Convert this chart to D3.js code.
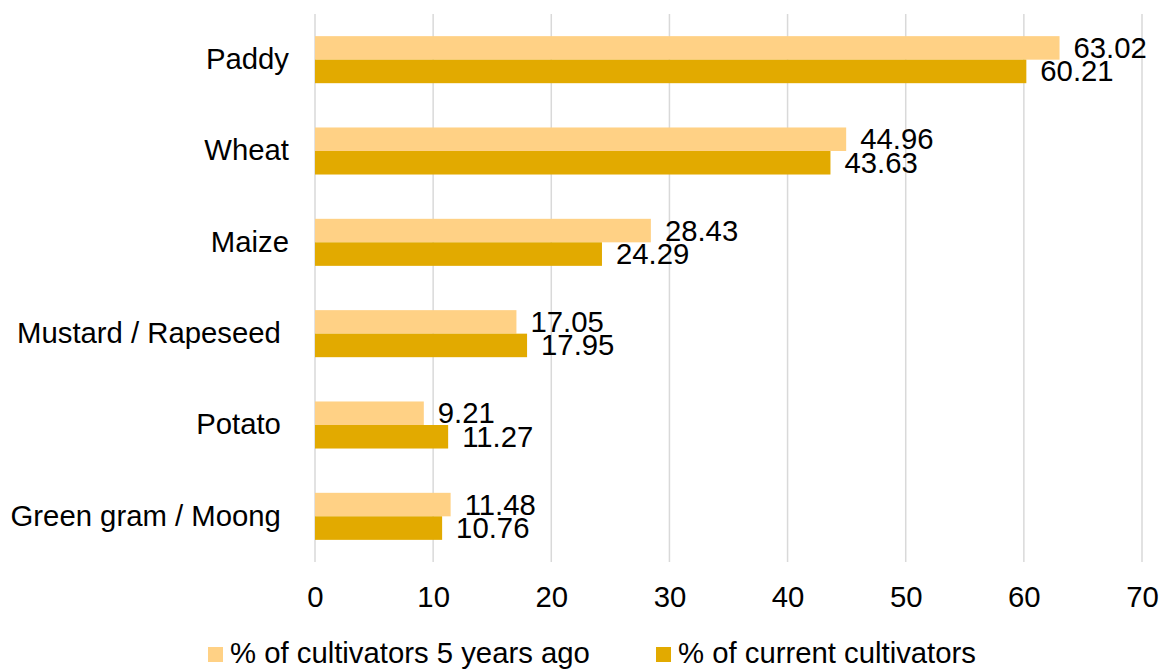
<!DOCTYPE html>
<html>
<head>
<meta charset="utf-8">
<script src="https://cdn.jsdelivr.net/npm/d3@7"></script>
<style>
  html, body { margin: 0; padding: 0; background: #fff; }
  svg text { font-family: "Liberation Sans", Arial, sans-serif; fill: #000; white-space: pre; }
</style>
</head>
<body>
<svg id="chart" width="1162" height="669"></svg>
<script>
// Crop names (trailing spaces keep Excel-style label alignment)
const crops = ["Paddy", "Wheat", "Maize", "Mustard / Rapeseed ", "Potato ", "Green gram / Moong "];
const pastShare = [63.02, 44.96, 28.43, 17.05, 9.21, 11.48];
const currentShare = [60.21, 43.63, 24.29, 17.95, 11.27, 10.76];
const seriesNames = ["% of cultivators 5 years ago", "% of current cultivators"];
const seriesColors = ["#FFD185", "#E2AA00"];
const xTicks = [0, 10, 20, 30, 40, 50, 60, 70];

const svg = d3.select("#chart");
const margin = { left: 315, right: 20, top: 14, bottom: 107 };
const W = 1162, H = 669;
const fontSize = 29.3;

const x = d3.scaleLinear().domain([0, 70]).range([margin.left, 1142]);
const y = d3.scaleBand().domain(crops).range([margin.top, H - margin.bottom])
  .paddingInner(0.485).paddingOuter(0.2425);
const ySub = d3.scaleBand().domain([0, 1]).range([0, y.bandwidth()]);

// Vertical gridlines
svg.append("g").selectAll("line").data(xTicks).join("line")
  .attr("x1", d => x(d)).attr("x2", d => x(d))
  .attr("y1", margin.top).attr("y2", H - margin.bottom)
  .attr("stroke", "#D9D9D9").attr("stroke-width", 1.5);

// X-axis tick labels
const xAxis = d3.axisBottom(x).tickValues(xTicks).tickSize(0).tickPadding(0).tickFormat(d3.format("d"));
const gx = svg.append("g").attr("transform", `translate(0, 607)`).call(xAxis);
gx.select(".domain").remove();
gx.selectAll("text").attr("dy", 0).attr("y", 0)
  .style("font-size", fontSize + "px").attr("fill", "#000");

// Category labels
svg.append("g").selectAll("text").data(crops).join("text")
  .attr("x", 289)
  .attr("y", d => y(d) + y.bandwidth() / 2 + 0.35 * fontSize - 1)
  .attr("text-anchor", "end")
  .style("font-size", fontSize + "px")
  .text(d => d);

// Bars and value labels
const rows = crops.map((c, i) => ({ crop: c, values: [pastShare[i], currentShare[i]] }));
const groups = svg.append("g").selectAll("g").data(rows).join("g")
  .attr("transform", d => `translate(0, ${y(d.crop)})`);

groups.selectAll("rect").data(d => d.values.map((v, k) => ({ v, k }))).join("rect")
  .attr("x", x(0))
  .attr("y", d => ySub(d.k))
  .attr("width", d => x(d.v) - x(0))
  .attr("height", ySub.bandwidth())
  .attr("fill", d => seriesColors[d.k]);

groups.selectAll("text").data(d => d.values.map((v, k) => ({ v, k }))).join("text")
  .attr("x", d => x(d.v) + 14)
  .attr("y", d => ySub(d.k) + ySub.bandwidth() / 2 + 10)
  .style("font-size", fontSize + "px")
  .text(d => d.v.toFixed(2));

// Legend
const legendX = [208, 656];
const legend = svg.append("g").selectAll("g").data(seriesNames).join("g")
  .attr("transform", (d, i) => `translate(${legendX[i]}, 647)`);
legend.append("rect").attr("width", 15).attr("height", 15)
  .attr("fill", (d, i) => seriesColors[i]);
legend.append("text").attr("x", 22).attr("y", 16)
  .style("font-size", fontSize + "px")
  .text(d => d);
</script>
</body>
</html>
